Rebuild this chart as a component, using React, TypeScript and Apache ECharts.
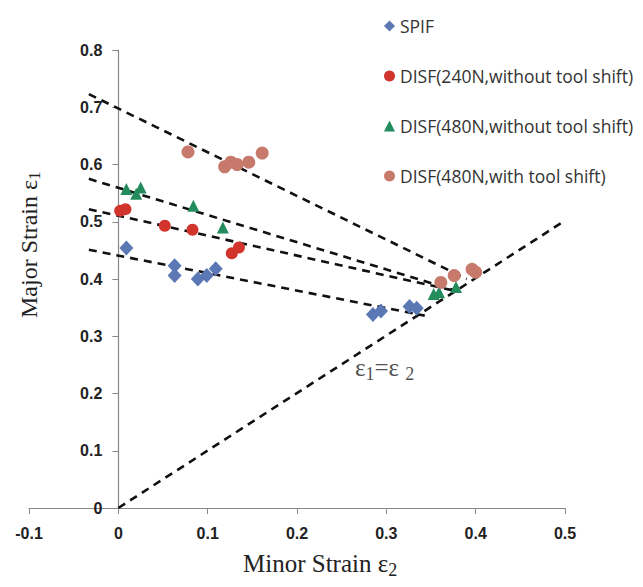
import React, { useEffect, useRef } from "react";
import * as echarts from "echarts";

const xTicks = { min: -0.1, max: 0.5, interval: 0.1 };
const yTicks = { min: 0, max: 0.8, interval: 0.1 };

const spifX = [0.009, 0.063, 0.063, 0.089, 0.099, 0.109, 0.285, 0.294, 0.326, 0.334];
const spifY = [0.454, 0.423, 0.406, 0.4, 0.406, 0.418, 0.338, 0.344, 0.352, 0.349];

const red240X = [0.002, 0.008, 0.052, 0.083, 0.127, 0.135];
const red240Y = [0.519, 0.522, 0.493, 0.486, 0.445, 0.455];

const green480X = [0.009, 0.02, 0.025, 0.084, 0.117, 0.353, 0.359, 0.378];
const green480Y = [0.557, 0.549, 0.56, 0.528, 0.49, 0.374, 0.377, 0.386];

const brownShiftX = [0.078, 0.119, 0.126, 0.133, 0.146, 0.161, 0.361, 0.376, 0.396, 0.4];
const brownShiftY = [0.622, 0.596, 0.604, 0.6, 0.604, 0.62, 0.394, 0.406, 0.417, 0.412];

// dashed trend lines: [x0, y0, x1, y1]
const lineEqual = [0, 0, 0.5, 0.502];
const lineBrown = [-0.033, 0.723, 0.39, 0.4];
const lineGreen = [-0.033, 0.575, 0.375, 0.381];
const lineRed = [-0.033, 0.522, 0.375, 0.38];
const lineBlue = [-0.033, 0.451, 0.343, 0.336];

const labelPos = [0.266, 0.245];

const names = [
  "SPIF",
  "DISF(240N,without tool shift)",
  "DISF(480N,without tool shift)",
  "DISF(480N,with tool shift)",
];

const zip = (xs: number[], ys: number[]) => xs.map((x, i) => [x, ys[i]]);

const GRID_LEFT = 29;
const GRID_RIGHT = 78;
const CHART_W = 643;

export default function App() {
  const ref = useRef<HTMLDivElement>(null);
  useEffect(() => {
    const chart = echarts.init(ref.current!, null, { renderer: "svg" });
    const dash = (l: number[]) => ({
      type: "line",
      data: [
        [l[0], l[1]],
        [l[2], l[3]],
      ],
      symbol: "none",
      silent: true,
      lineStyle: { color: "#111", width: 2.6, type: [8, 6] },
      z: 1,
    });
    const serif = "'Liberation Serif', 'Times New Roman', serif";
    const plotW = CHART_W - GRID_LEFT - GRID_RIGHT;
    const zeroOffset = (plotW * (0 - xTicks.min)) / (xTicks.max - xTicks.min);
    const tickLabel = {
      fontFamily: "'Liberation Sans', Arial, sans-serif",
      fontWeight: "bold",
      fontSize: 16,
      color: "#222",
      formatter: (v: number) => String(Math.round(v * 10) / 10),
    };
    chart.setOption({
      animation: false,
      backgroundColor: "#fff",
      grid: {
        left: GRID_LEFT,
        right: GRID_RIGHT,
        top: 50,
        bottom: 79,
        containLabel: false,
        outerBoundsMode: "none",
      },
      legend: {
        orient: "vertical",
        left: 379,
        top: 12,
        itemGap: 32,
        itemWidth: 11,
        itemHeight: 11,
        data: names,
        textStyle: { fontFamily: "'Open Sans', sans-serif", fontSize: 17.5, color: "#333" },
      },
      xAxis: {
        type: "value",
        ...xTicks,
        splitLine: { show: false },
        axisLine: { onZero: false, lineStyle: { color: "#888", width: 1.2 } },
        axisTick: { show: true, length: 6, lineStyle: { color: "#888" } },
        axisLabel: { margin: 17, ...tickLabel },
      },
      yAxis: {
        type: "value",
        ...yTicks,
        offset: -zeroOffset,
        splitLine: { show: false },
        axisLine: { show: true, onZero: false, lineStyle: { color: "#888", width: 1.2 } },
        axisTick: { show: true, length: 6, lineStyle: { color: "#888" } },
        axisLabel: { margin: 16, ...tickLabel },
      },
      graphic: [
        {
          type: "text",
          left: 243,
          top: 551,
          style: {
            text: "Minor Strain ε{s|2}",
            fontFamily: serif,
            fontSize: 25,
            fill: "#222",
            rich: { s: { fontSize: 18, fontFamily: serif, padding: [12, 0, 0, 0], fill: "#222" } },
          },
        },
        {
          type: "text",
          x: 14,
          y: 318,
          rotation: Math.PI / 2,
          style: {
            text: "Major Strain ε{s|1}",
            fontFamily: serif,
            fontSize: 24,
            fill: "#222",
            rich: { s: { fontSize: 17, fontFamily: serif, padding: [12, 0, 0, 0], fill: "#222" } },
          },
        },
      ],
      series: [
        dash(lineEqual),
        dash(lineBrown),
        dash(lineGreen),
        dash(lineRed),
        dash(lineBlue),
        {
          type: "scatter",
          data: [labelPos],
          symbolSize: 0,
          silent: true,
          label: {
            show: true,
            position: "right",
            offset: [-6, 0],
            formatter: "ε{s|1}=ε {s|2}",
            fontFamily: serif,
            fontSize: 25,
            color: "#222",
            rich: { s: { fontSize: 18, fontFamily: serif, padding: [12, 0, 0, 0], color: "#222" } },
          },
        },
        {
          name: names[0],
          type: "scatter",
          symbol: "diamond",
          symbolSize: [14, 15],
          itemStyle: { color: "#5b78b4", opacity: 1 },
          data: zip(spifX, spifY),
          z: 3,
        },
        {
          name: names[1],
          type: "scatter",
          symbol: "circle",
          symbolSize: 12,
          itemStyle: { color: "#d0342c", opacity: 1 },
          data: zip(red240X, red240Y),
          z: 3,
        },
        {
          name: names[2],
          type: "scatter",
          symbol: "triangle",
          symbolSize: 12,
          itemStyle: { color: "#238c5c", opacity: 1 },
          data: zip(green480X, green480Y),
          z: 3,
        },
        {
          name: names[3],
          type: "scatter",
          symbol: "circle",
          symbolSize: 13,
          itemStyle: { color: "#c77a6c", opacity: 1 },
          data: zip(brownShiftX, brownShiftY),
          z: 3,
        },
      ],
    });
    return () => chart.dispose();
  }, []);
  return <div ref={ref} style={{ width: 643, height: 587, position: "absolute", left: 0, top: 0 }} />;
}
